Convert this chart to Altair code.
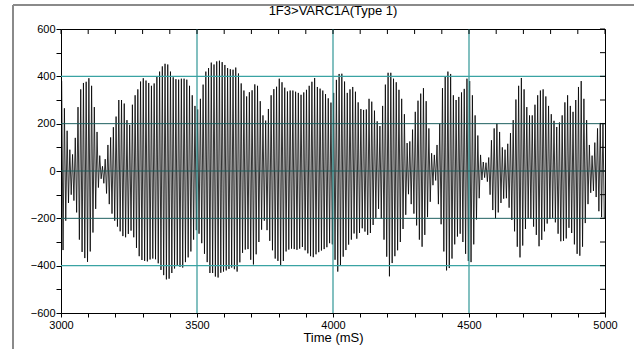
import altair as alt
import pandas as pd

title_text = "1F3>VARC1A(Type 1)"
x_title = "Time (mS)"
t_start = 3000
half_period = 5  # ms between a crest and the following trough

upper_peaks = [380, 265, 170, 90, 70, 140, 270, 345, 372, 377,
               392, 360, 270, 165, 65, 20, 50, 110, 142, 185,
               230, 300, 300, 285, 215, 195, 280, 320, 345, 378,
               392, 382, 372, 360, 370, 398, 420, 442, 453, 450,
               420, 396, 388, 386, 390, 390, 386, 360, 320, 275,
               260, 305, 365, 420, 435, 458, 450, 463, 466, 460,
               448, 435, 430, 428, 437, 412, 370, 340, 315, 333,
               341, 366, 360, 295, 235, 213, 262, 320, 346, 356,
               390, 375, 352, 336, 340, 340, 335, 330, 322, 332,
               343, 360, 377, 393, 355, 348, 340, 325, 307, 289,
               330, 385, 410, 411, 378, 330, 345, 355, 335, 290,
               262, 258, 260, 305, 293, 255, 210, 190, 275, 365,
               415, 415, 390, 375, 343, 305, 240, 118, 125, 175,
               250, 297, 327, 350, 295, 180, 75, 68, 110, 200,
               350, 400, 420, 410, 320, 300, 313, 332, 347, 390,
               380, 320, 235, 150, 68, 38, 35, 57, 130, 180,
               200, 165, 100, 90, 115, 160, 215, 302, 360, 393,
               345, 270, 235, 235, 280, 320, 340, 345, 315, 275,
               240, 212, 186, 205, 235, 290, 320, 275, 250, 300,
               355, 380, 305, 215, 110, 65, 120, 180, 203, 203]

lower_peaks = [-334, -210, -135, -100, -125, -175, -290, -342, -368, -384,
               -340, -260, -160, -70, -33, -52, -95, -140, -180, -210,
               -235, -255, -275, -280, -266, -252, -280, -325, -360, -376,
               -380, -382, -374, -370, -373, -390, -418, -440, -458, -455,
               -431, -412, -400, -405, -408, -385, -365, -340, -290, -250,
               -265, -305, -350, -385, -431, -431, -446, -450, -430, -425,
               -420, -414, -408, -415, -425, -386, -346, -332, -330, -375,
               -395, -352, -300, -248, -210, -250, -295, -335, -370, -380,
               -398, -380, -340, -332, -328, -330, -333, -328, -321, -335,
               -348, -360, -364, -352, -343, -336, -330, -322, -305, -310,
               -375, -425, -400, -362, -334, -311, -290, -264, -286, -262,
               -242, -256, -270, -262, -228, -198, -160, -200, -290, -362,
               -445, -389, -360, -335, -300, -245, -185, -98, -140, -180,
               -230, -290, -320, -270, -195, -130, -60, -40, -140, -225,
               -340, -420, -410, -370, -310, -277, -265, -300, -350, -380,
               -385, -310, -205, -115, -38, -28, -45, -100, -165, -200,
               -175, -135, -117, -115, -155, -207, -255, -320, -365, -315,
               -245, -200, -203, -235, -270, -318, -291, -255, -222, -203,
               -198, -217, -265, -297, -295, -285, -240, -262, -310, -350,
               -358, -320, -220, -140, -92, -84, -110, -170, -195, -200]

x_ticks = list(range(3000, 5001, 100))
y_ticks = list(range(-600, 601, 100))
grid_x = [3500, 4000, 4500]
grid_y_outer = [-400, 400]
grid_y_inner = [-200, 0, 200]

# interleave crests and troughs on the sampling grid
vals = []
for u, l in zip(upper_peaks, lower_peaks):
    vals.append(u)
    vals.append(l)
times = [t_start + half_period / 2 + half_period * k for k in range(len(vals))]
wave = pd.DataFrame({"t": times, "v": vals})

W, H = 544, 284
FONT = "Liberation Sans"
xs = alt.Scale(domain=[3000, 5000], nice=False, zero=False)
ys = alt.Scale(domain=[-600, 600], nice=False, zero=False)

line = alt.Chart(wave).mark_line(color="black", strokeWidth=0.8).encode(
    x=alt.X("t:Q", scale=xs, title=x_title,
            axis=alt.Axis(values=x_ticks, format="d",
                          labelExpr="datum.value % 500 == 0 ? datum.label : ''",
                          labelOverlap=False, labelFlush=False, grid=False,
                          domain=False, tickSize=4, tickColor="black",
                          labelFontSize=11, labelFont=FONT, labelColor="black",
                          labelPadding=2, titleFont=FONT, titleFontSize=13,
                          titleFontWeight="normal", titleColor="black",
                          titlePadding=1)),
    y=alt.Y("v:Q", scale=ys, title=None,
            axis=alt.Axis(values=y_ticks, format="d",
                          labelExpr="datum.value % 200 == 0 ? datum.label : ''",
                          labelOverlap=False, labelFlush=False, grid=False,
                          domain=False, tickSize=5, tickColor="black",
                          labelFontSize=11, labelFont=FONT, labelColor="black",
                          labelPadding=1)),
)

gx = alt.Chart(pd.DataFrame({"g": grid_x})).mark_rule(
    color="#2f9696", strokeWidth=1.2).encode(x=alt.X("g:Q", scale=xs, axis=None))
gyo = alt.Chart(pd.DataFrame({"g": grid_y_outer})).mark_rule(
    color="#3aa3a3", strokeWidth=1.2).encode(y=alt.Y("g:Q", scale=ys, axis=None))
gyi = alt.Chart(pd.DataFrame({"g": grid_y_inner})).mark_rule(
    color="#1d5f5f", strokeWidth=1.0).encode(y=alt.Y("g:Q", scale=ys, axis=None))

top_ticks = alt.Chart(pd.DataFrame({"tx": x_ticks})).mark_rule(
    color="black", strokeWidth=1).encode(
    x=alt.X("tx:Q", scale=xs, axis=None), y=alt.value(0), y2=alt.value(5))
right_ticks = alt.Chart(pd.DataFrame({"ty": y_ticks})).mark_rule(
    color="black", strokeWidth=1).encode(
    y=alt.Y("ty:Q", scale=ys, axis=None), x=alt.value(W - 5), x2=alt.value(W))

frame_left = alt.Chart(pd.DataFrame({"a": [0]})).mark_rule(
    color="#8a8a8a", strokeWidth=2).encode(
    x=alt.value(-48), y=alt.value(-24), y2=alt.value(H + 40))
frame_top = alt.Chart(pd.DataFrame({"a": [0]})).mark_rule(
    color="#8a8a8a", strokeWidth=2).encode(
    x=alt.value(-48), x2=alt.value(W + 40), y=alt.value(-24))

title_mark = alt.Chart(pd.DataFrame({"a": [0]})).mark_text(
    font=FONT, fontSize=13, color="black", align="center", baseline="middle"
).encode(x=alt.value(W / 2), y=alt.value(-18), text=alt.value(title_text))

chart = alt.layer(
    line, gx, gyo, gyi, top_ticks, right_ticks, frame_left, frame_top, title_mark
).resolve_axis(x="independent", y="independent").properties(
    width=W, height=H,
    autosize=alt.AutoSizeParams(type="none"),
    padding={"left": 61, "top": 29, "right": 29, "bottom": 36},
).configure_view(stroke="black", strokeWidth=1)

chart.save("out.html", embed_options={"renderer": "svg", "actions": False})
